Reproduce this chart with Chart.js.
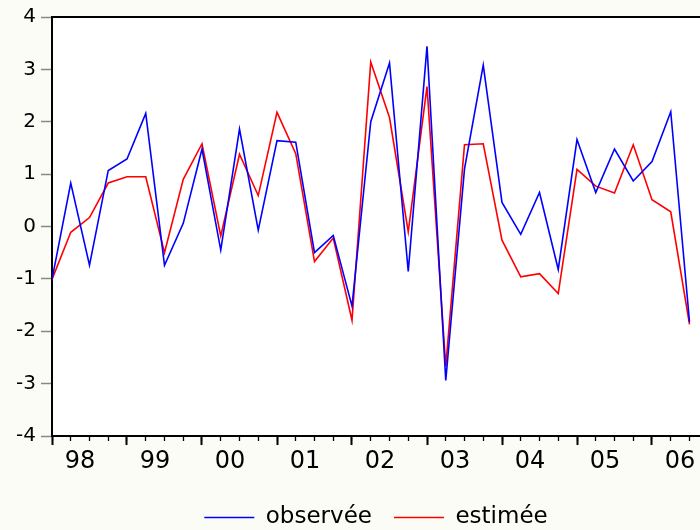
<!DOCTYPE html>
<html>
<head>
<meta charset="utf-8">
<script src="https://cdn.jsdelivr.net/npm/chart.js@4"></script>
<style>
  html, body { margin: 0; padding: 0; background: #fcfcf7; }
  #wrap { width: 700px; height: 530px; }
</style>
</head>
<body>
<div id="wrap"><canvas id="c" width="700" height="530"></canvas></div>
<script>
// Quarterly observations 1998Q1 .. 2006Q3
const yearLabels = ['98', '99', '00', '01', '02', '03', '04', '05', '06'];
const observee = [-1.01, 0.83, -0.74, 1.07, 1.29, 2.16, -0.74, 0.06, 1.48, -0.45, 1.86, -0.07,
                  1.64, 1.61, -0.50, -0.17, -1.52, 2.00, 3.12, -0.86, 3.44, -2.94, 1.10, 3.08,
                  0.46, -0.15, 0.65, -0.82, 1.66, 0.65, 1.48, 0.87, 1.24, 2.19, -1.82];
const estimee  = [-1.01, -0.11, 0.17, 0.83, 0.95, 0.95, -0.50, 0.90, 1.58, -0.18, 1.38, 0.59,
                  2.18, 1.39, -0.67, -0.22, -1.79, 3.14, 2.08, -0.10, 2.67, -2.67, 1.56, 1.58,
                  -0.26, -0.96, -0.90, -1.28, 1.09, 0.77, 0.64, 1.56, 0.51, 0.28, -1.87];
const yTicks = [-4, -3, -2, -1, 0, 1, 2, 3, 4];

const toXY = arr => arr.map((v, i) => ({ x: i, y: v }));
const X_MAX = 34.56;

const plotBg = {
  id: 'plotBg',
  beforeDraw(chart) {
    const { ctx, chartArea: a } = chart;
    ctx.save();
    ctx.fillStyle = '#ffffff';
    ctx.fillRect(a.left, a.top, a.right - a.left, a.bottom - a.top);
    ctx.restore();
  }
};

new Chart(document.getElementById('c'), {
  type: 'line',
  data: {
    datasets: [
      { label: 'observée', data: toXY(observee), borderColor: '#0000ff', backgroundColor: '#0000ff',
        borderWidth: 1.6, pointRadius: 0, tension: 0, xAxisID: 'x', yAxisID: 'y' },
      { label: 'estimée', data: toXY(estimee), borderColor: '#ff0000', backgroundColor: '#ff0000',
        borderWidth: 1.6, pointRadius: 0, tension: 0, xAxisID: 'x', yAxisID: 'y' }
    ]
  },
  options: {
    responsive: false,
    animation: false,
    layout: { padding: { top: 17, right: 0, bottom: -9, left: 0 } },
    plugins: {
      tooltip: { enabled: false },
      legend: {
        position: 'bottom',
        fullSize: false,
        labels: {
          usePointStyle: true,
          pointStyle: 'line',
          pointStyleWidth: 50,
          color: '#000',
          padding: 22,
          font: { family: 'DejaVu Sans', size: 23 }
        }
      }
    },
    scales: {
      x: {
        type: 'linear', position: 'bottom', weight: 1, min: 0, max: X_MAX,
        afterBuildTicks: s => { s.ticks = yearLabels.map((_, i) => ({ value: i * 4 })); },
        afterFit: s => { s.height = 48; },
        ticks: {
          callback: v => yearLabels[Math.round(v / 4)],
          labelOffset: 28, padding: 2, maxRotation: 0, autoSkip: false,
          color: '#000', font: { family: 'DejaVu Sans', size: 24 }
        },
        grid: { drawOnChartArea: false, tickLength: 9, tickColor: '#000', tickWidth: 2 },
        border: { display: true, color: '#000', width: 2 }
      },
      xMinor: {
        type: 'linear', position: 'bottom', weight: 0, min: 0, max: X_MAX,
        afterBuildTicks: s => { s.ticks = observee.map((_, i) => ({ value: i })); },
        afterFit: s => { s.height = 0; },
        ticks: { display: false },
        grid: { drawOnChartArea: false, tickLength: 5, tickColor: '#000', tickWidth: 1.3 },
        border: { display: false }
      },
      xTop: {
        type: 'linear', position: 'top', min: 0, max: X_MAX,
        afterFit: s => { s.height = 0; },
        ticks: { display: false },
        grid: { drawOnChartArea: false, drawTicks: false },
        border: { display: true, color: '#000', width: 2 }
      },
      y: {
        min: -4, max: 4,
        afterBuildTicks: s => { s.ticks = yTicks.map(v => ({ value: v })); },
        afterFit: s => { s.width = 52; },
        ticks: { padding: 5, color: '#000', font: { family: 'DejaVu Sans', size: 20 } },
        grid: { drawOnChartArea: false, tickLength: 11, tickColor: '#888', tickWidth: 1.5 },
        border: { display: true, color: '#000', width: 2 }
      }
    }
  },
  plugins: [plotBg]
});
</script>
</body>
</html>
